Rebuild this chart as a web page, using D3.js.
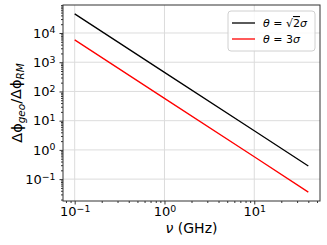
<!DOCTYPE html>
<html>
<head>
<meta charset="utf-8">
<script src="https://cdn.jsdelivr.net/npm/d3@7"></script>
<style>
  body { margin: 0; background: #fff; }
  text { font-family: "DejaVu Sans", sans-serif; }
</style>
</head>
<body>
<div id="chart"></div>
<script>
// values (power law, straight in log-log)
var freqs = [0.1, 1, 10, 40];
var ratioSqrt2 = [45000, 450, 4.5, 0.28];
var ratio3 = [5800, 58, 0.58, 0.036];
var xTickExp = [-1, 0, 1];
var yTickExp = [-1, 0, 1, 2, 3, 4];
var seriesColors = ["#000000", "#ff0000"];

var margin = {top: 5, right: 7, bottom: 44, left: 63},
    width = 327 - margin.left - margin.right,
    height = 245 - margin.top - margin.bottom;

var svg = d3.select("#chart")
  .append("svg")
    .attr("width", width + margin.left + margin.right)
    .attr("height", height + margin.top + margin.bottom)
  .append("g")
    .attr("transform", "translate(" + margin.left + "," + margin.top + ")");

// log domains with matplotlib's 5% padding
function padLog(lo, hi) {
  var a = Math.log10(lo), b = Math.log10(hi), p = (b - a) * 0.05;
  return [Math.pow(10, a - p), Math.pow(10, b + p)];
}
var allY = ratioSqrt2.concat(ratio3);
var x = d3.scaleLog().domain(padLog(d3.min(freqs), d3.max(freqs))).range([0, width]);
var y = d3.scaleLog().domain(padLog(d3.min(allY), d3.max(allY))).range([height, 0]);

function minors(scale) {
  var d = scale.domain(), out = [];
  for (var e = Math.floor(Math.log10(d[0])); e <= Math.ceil(Math.log10(d[1])); e++) {
    for (var m = 2; m < 10; m++) {
      var v = m * Math.pow(10, e);
      if (v >= d[0] && v <= d[1]) out.push(v);
    }
  }
  return out;
}
var xMajor = xTickExp.map(e => Math.pow(10, e));
var yMajor = yTickExp.map(e => Math.pow(10, e));

// grid
svg.append("g").selectAll("line").data(xMajor).enter().append("line")
  .attr("x1", d => x(d)).attr("x2", d => x(d))
  .attr("y1", 0).attr("y2", height)
  .attr("stroke", "#dcdcdc").attr("stroke-width", 1);
svg.append("g").selectAll("line").data(yMajor).enter().append("line")
  .attr("y1", d => y(d)).attr("y2", d => y(d))
  .attr("x1", 0).attr("x2", width)
  .attr("stroke", "#dcdcdc").attr("stroke-width", 1);

// minor ticks
svg.append("g")
  .attr("transform", "translate(0," + height + ")")
  .call(d3.axisBottom(x).tickValues(minors(x)).tickSize(2).tickFormat(""))
  .call(g => g.select(".domain").remove());
svg.append("g")
  .call(d3.axisLeft(y).tickValues(minors(y)).tickSize(2).tickFormat(""))
  .call(g => g.select(".domain").remove());

// major ticks, with 10^n labels
function supLabel(sel, exps) {
  sel.selectAll(".tick text").each(function(d, i) {
    var t = d3.select(this).text(null);
    t.append("tspan").text("10");
    t.append("tspan").attr("dy", "-0.45em").attr("font-size", "0.72em")
      .text(String(exps[i]).replace("-", "\u2212"));
  });
}
var xAxis = svg.append("g")
  .attr("transform", "translate(0," + height + ")")
  .call(d3.axisBottom(x).tickValues(xMajor).tickSize(3.5).tickPadding(2));
xAxis.selectAll(".tick text").attr("font-size", 13).attr("fill", "#000").attr("font-family", "DejaVu Sans");
supLabel(xAxis, xTickExp);
var yAxis = svg.append("g")
  .call(d3.axisLeft(y).tickValues(yMajor).tickSize(3.5).tickPadding(4));
yAxis.selectAll(".tick text").attr("font-size", 13).attr("fill", "#000").attr("font-family", "DejaVu Sans");
supLabel(yAxis, yTickExp);
svg.selectAll(".domain").remove();
svg.selectAll(".tick line").attr("stroke", "#333");

// frame
svg.append("rect")
  .attr("width", width).attr("height", height)
  .attr("fill", "none").attr("stroke", "#333").attr("stroke-width", 1);

// lines
var line = d3.line().x((d, i) => x(freqs[i])).y(d => y(d));
[ratioSqrt2, ratio3].forEach(function(s, k) {
  svg.append("path")
    .datum(s)
    .attr("d", line)
    .attr("fill", "none")
    .attr("stroke", seriesColors[k])
    .attr("stroke-width", 1.3);
});

// axis labels
svg.append("text")
  .attr("x", width / 2).attr("y", height + 32)
  .attr("text-anchor", "middle")
  .attr("font-size", 14)
  .html('<tspan font-style="italic">\u03bd</tspan> (GHz)');

var yl = svg.append("text")
  .attr("transform", "rotate(-90)")
  .attr("x", -height / 2).attr("y", -margin.left + 22)
  .attr("text-anchor", "middle")
  .attr("font-size", 14.5);
yl.append("tspan").text("\u0394\u03d5");
yl.append("tspan").attr("font-size", "0.72em").attr("font-style", "italic").attr("dy", "0.3em").text("geo");
yl.append("tspan").attr("dy", "-0.3em").text("/\u0394\u03d5");
yl.append("tspan").attr("font-size", "0.72em").attr("font-style", "italic").attr("dy", "0.3em").text("RM");

// legend
var legend = svg.append("g").attr("transform", "translate(" + (width - 92) + ",6)");
legend.append("rect")
  .attr("width", 87).attr("height", 40).attr("rx", 3)
  .attr("fill", "#fff").attr("fill-opacity", 0.8)
  .attr("stroke", "#d0d0d0");
var legendItems = [["\u03b8", " = \u221a", "2", "\u03c3"], ["\u03b8", " = 3", "", "\u03c3"]];
legendItems.forEach(function(it, k) {
  var gy = 12 + k * 16;
  legend.append("line")
    .attr("x1", 4).attr("x2", 27).attr("y1", gy).attr("y2", gy)
    .attr("stroke", seriesColors[k]).attr("stroke-width", 1.3);
  var t = legend.append("text").attr("x", 35).attr("y", gy + 4).attr("font-size", 11);
  t.append("tspan").attr("font-style", "italic").text(it[0]);
  t.append("tspan").text(it[1]);
  if (it[2]) t.append("tspan").attr("text-decoration", "overline").text(it[2]);
  t.append("tspan").attr("font-style", "italic").text(it[3]);
});
</script>
</body>
</html>
